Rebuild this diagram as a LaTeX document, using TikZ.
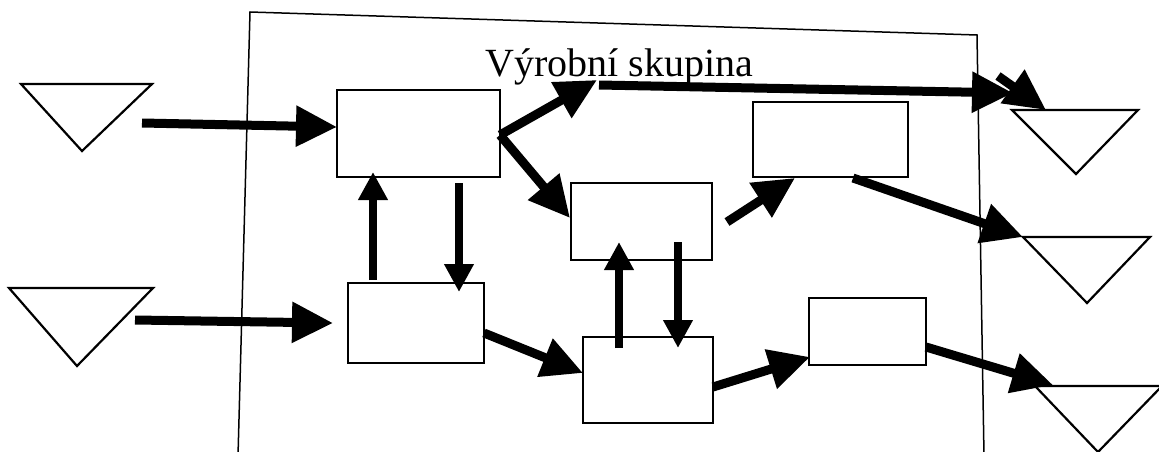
\documentclass[tikz,border=0pt]{standalone}
\usepackage{fontspec}
\setmainfont{Liberation Serif}
\usetikzlibrary{arrows.meta,calc}
\begin{document}
\begin{tikzpicture}[x=1pt,y=-1pt,
  stage/.style={draw,line width=1.8pt,rectangle,inner sep=0pt},
  store/.style={draw,line width=2.2pt,line join=miter},
  flow/.style={line width=9pt,-{Triangle[length=41pt,width=39pt]}},
  feedback/.style={line width=8.5pt,-{Triangle[length=28pt,width=28pt]}},
  frameline/.style={line width=1.5pt},
  title/.style={font=\fontsize{40}{48}\selectfont,inner sep=0pt,anchor=base west}]
\useasboundingbox (0,0) rectangle (1159,452);

% production group boundary
\draw[frameline] (238,456) -- (250,12) -- (977,35) -- (984,456);
\node[title] (group) at (485,77) {Výrobní skupina};

% work stations
\node[stage,minimum width=163pt,minimum height=87pt] (A) at (418.5,133.5) {};
\node[stage,minimum width=136pt,minimum height=80pt] (B) at (416,323) {};
\node[stage,minimum width=141pt,minimum height=77pt] (C) at (641.5,221.5) {};
\node[stage,minimum width=130pt,minimum height=86pt] (D) at (648,380) {};
\node[stage,minimum width=155pt,minimum height=75pt] (E) at (830.5,139.5) {};
\node[stage,minimum width=117pt,minimum height=67pt] (F) at (867.5,331.5) {};

% input and output stores
\draw[store] (21,84) coordinate (T1l) -- (152,84) coordinate (T1r) -- (82,151) -- cycle;
\draw[store] (9,288) coordinate (T2l) -- (153,288) coordinate (T2r) -- (77,366) -- cycle;
\draw[store] (1012,110) coordinate (T3l) -- (1138,110) -- (1076,174) -- cycle;
\draw[store] (1023,237) coordinate (T4l) -- (1150,237) -- (1087,303) -- cycle;
\draw[store] (1035,386) coordinate (T5l) -- (1162,386) -- (1098,452) -- cycle;

% connector end points
\coordinate (in1) at (142,123);
\coordinate (in2) at (135,320);
\coordinate (Aout) at (500,135);
\coordinate (split) at (597,80);
\coordinate (long) at (599,85);
\coordinate (longend) at (1013,93);
\coordinate (turn) at (998,76);
\coordinate (Cout) at (727,222);
\coordinate (Ein) at (795,178);
\coordinate (Eout) at (853,178);
\coordinate (Bout) at (484,333);
\coordinate (Din) at (583,373);
\coordinate (Dout) at (713,387);
\coordinate (Fin) at (810,357);
\coordinate (Fout) at (926,347);

% material flow
\draw[flow] (in1) -- (337,127);
\draw[flow] (in2) -- (333,323);
\draw[flow] (Aout) -- (split);
\draw[flow] (Aout) -- (570,218);
\draw[flow] (long) -- (longend);
\draw[flow] (turn) -- (1046,110);
\draw[flow] (Bout) -- (Din);
\draw[flow] (Cout) -- (Ein);
\draw[flow] (Dout) -- (Fin);
\draw[flow] (Eout) -- (T4l);
\draw[flow] (Fout) -- (1053,385);

% exchanges between stations
\draw[feedback] (373,280) -- (373,172);
\draw[feedback] (459,183) -- (459,292);
\draw[feedback] (619,348) -- (619,242);
\draw[feedback] (678,242) -- (678,348);
\end{tikzpicture}
\end{document}
